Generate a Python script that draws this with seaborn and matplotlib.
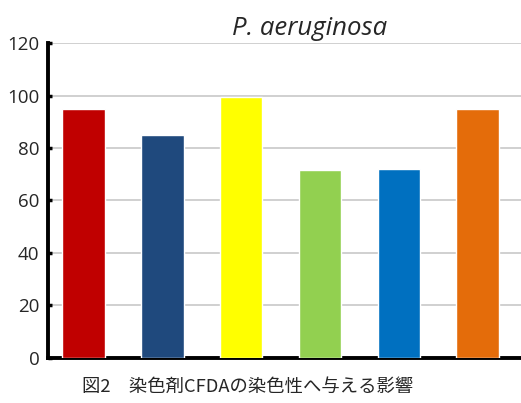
import matplotlib
matplotlib.use("Agg")
import matplotlib.pyplot as plt
import seaborn as sns
import pandas as pd

categories = ["1", "2", "3", "4", "5", "6"]
values = [95, 85, 99.5, 71.5, 72, 95]
colors = ["#C00000", "#1F497D", "#FFFF00", "#92D050", "#0070C0", "#E46C0A"]
yticks = [0, 20, 40, 60, 80, 100, 120]
title = "P. aeruginosa"
caption = "図2　染色剤CFDAの染色性へ与える影響"

sns.set_theme(style="white")
plt.rcParams['font.family'] = ['Open Sans', 'Noto Sans CJK JP', 'DejaVu Sans']

df = pd.DataFrame({"cat": categories, "val": values})
fig = plt.figure(figsize=(5.21, 4.03), dpi=100)
ax = fig.add_axes([0.092, 0.112, 0.908, 0.781])
sns.barplot(data=df, x="cat", y="val", hue="cat", palette=colors, legend=False,
            width=0.54, saturation=1, ax=ax, zorder=3)
ax.set_ylim(0, 120)
ax.set_xlim(-0.45, 5.55)
ax.set_yticks(yticks)
ax.set_yticklabels([str(t) for t in yticks], fontsize=13.5)
ax.set_xticks([])
ax.set_xlabel("")
ax.set_ylabel("")
ax.grid(axis="y", color="#c8c8c8", linewidth=1.2, zorder=0)
for s in ["top", "right"]:
    ax.spines[s].set_visible(False)
for s in ["left", "bottom"]:
    ax.spines[s].set_color("black")
    ax.spines[s].set_linewidth(2.8)
ax.tick_params(axis="y", length=3, width=2.5, color="black", direction="in", pad=6, left=True)
ax.set_title(title, fontsize=18.5, style="italic", pad=6, x=(310 - 48) / 473)
fig.text(0.157, 0.039, caption, fontsize=13.2, family=['Noto Sans CJK JP', 'DejaVu Sans'], va="center", ha="left")
fig.savefig("out.png", dpi=100)
